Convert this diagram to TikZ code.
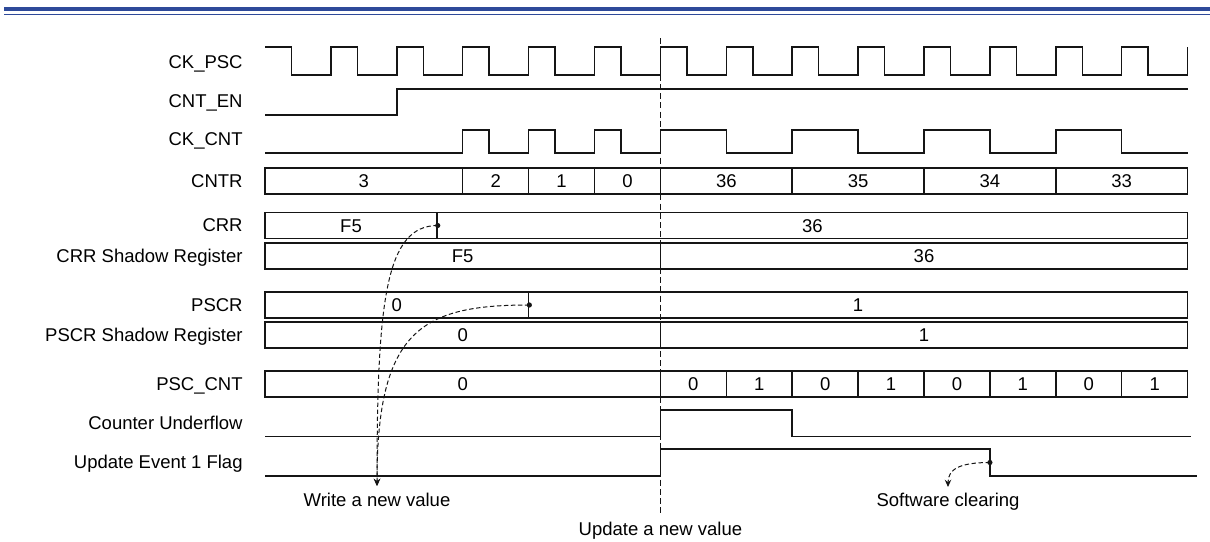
\documentclass[tikz,border=0pt]{standalone}
\usepackage{fontspec}
\setmainfont{Liberation Sans}
\usepackage{tikz}
\usetikzlibrary{positioning,arrows.meta}
\definecolor{cBar}{HTML}{2E4A9A}
\definecolor{cInk}{HTML}{151515}
\tikzset{
  >={Stealth[length=3.6pt,width=3.2pt]},
  sig/.style={line width=0.75pt,cInk},
  busbox/.style={draw=cInk,line width=0.75pt,inner sep=0pt,minimum height=13pt,
                 text height=6.6pt,text depth=0pt},
  lbl/.style={anchor=east,inner sep=0pt,text height=6.6pt,text depth=0pt},
  note/.style={inner sep=0pt,text height=6.6pt,text depth=0pt},
  guide/.style={cInk,line width=0.5pt,dash pattern=on 3pt off 1.6pt},
  hint/.style={->,cInk,line width=0.5pt,dash pattern=on 2.2pt off 1.3pt},
  dotpt/.style={circle,fill=cInk,inner sep=0pt,minimum size=2.6pt},
}
% clock tick -> x position (px)
\newcommand{\tpos}[1]{(265+(#1)*65.9)}
% one register row: name, y, list of tick_from/tick_to/value
\newcommand{\busrow}[3]{%
  \foreach \a/\b/\v [count=\i] in {#3}
    \node[busbox,minimum width={(\b-\a)*32.95pt}] (#1\i) at ({265+(\a+\b)*32.95},#2) {\v};}

\begin{document}
\begin{tikzpicture}[x=0.5pt,y=-0.5pt,font=\fontsize{9.25}{11}\selectfont]
  \useasboundingbox (0,0) rectangle (1210,541);
  \draw[cBar,line width=2pt] (4,9) -- (1210,9);
  \draw[cBar,line width=0.8pt] (4,14.5) -- (1210,14.5);

  \node[lbl] (lckpsc) at (243,62)    {CK\_PSC};
  \node[lbl] (lcnten) at (243,100.5) {CNT\_EN};
  \node[lbl] (lckcnt) at (243,139)   {CK\_CNT};
  \node[lbl] (lcntr)  at (243,181)   {CNTR};
  \node[lbl] (lcrr)   at (243,225)   {CRR};
  \node[lbl] (lcrrs)  at (243,255.5) {CRR Shadow Register};
  \node[lbl] (lpscr)  at (243,305)   {PSCR};
  \node[lbl] (lpscrs) at (243,335)   {PSCR Shadow Register};
  \node[lbl] (lpsc)   at (243,384)   {PSC\_CNT};
  \node[lbl] (lund)   at (243,423)   {Counter Underflow};
  \node[lbl] (luef)   at (243,462)   {Update Event 1 Flag};

  \draw[sig] (265,47) \foreach \k in {0,...,13}{
      -- ({\tpos{\k}+26.5},47) |- ({\tpos{\k+1}},75) -- ++(0,-28)};
  \draw[sig] (265,115) -| ({\tpos{2}},89) -- ({\tpos{14}},89);
  \draw[sig] (265,153) \foreach \k in {3,4,5}{
      -| ({\tpos{\k}},130) -| ({\tpos{\k}+26.5},153)}
    \foreach \k in {6,8,10,12}{
      -| ({\tpos{\k}},130) -| ({\tpos{\k+1}},153)} -- ({\tpos{14}},153);

  \busrow{cntr}{181}{0/3/3,3/4/2,4/5/1,5/6/0,6/8/36,8/10/35,10/12/34,12/14/33}
  \busrow{crr}{225.5}{0/2.61/F5,2.61/14/36}
  \busrow{crrs}{256}{0/6/F5,6/14/36}
  \busrow{pscr}{305}{0/4/0,4/14/1}
  \busrow{pscrs}{335}{0/6/0,6/14/1}
  \busrow{psc}{384}{0/6/0,6/7/0,7/8/1,8/9/0,9/10/1,10/11/0,11/12/1,12/13/0,13/14/1}

  \draw[sig] (265,436.5) -| ({\tpos{6}},410) -| ({\tpos{8}},436.5) -- ({\tpos{14}+3},436.5);
  \draw[sig] (265,476) -| ({\tpos{6}},449) -| ({\tpos{11}},476) -- (1197,476);

  \node[dotpt] (crrw) at (crr1.east) {};
  \node[dotpt] (pscrw) at (pscr1.east) {};
  \node[dotpt] (uefclr) at ({\tpos{11}},462.5) {};

  \coordinate (wtip) at (377,486);
  \coordinate (ctip) at (948,487);
  \coordinate (updtop) at ({\tpos{6}},38);
  \coordinate (updbot) at ({\tpos{6}},514);
  \node[note,below=3.6pt of wtip] (wnew) {Write a new value};
  \node[note,below=3pt of ctip] (swclr) {Software clearing};
  \node[note,below=3.8pt of updbot] (upnew) {Update a new value};

  \draw[guide] (updtop) -- (updbot);
  \draw[hint] (crrw.center) .. controls +(-52,0) and +(0,-186) .. (wtip);
  \draw[hint] (pscrw.center) .. controls +(-108,0) and +(0,-156) .. (wtip);
  \draw[hint] (uefclr.center) .. controls +(-30,0) and +(0,-18) .. (ctip);
\end{tikzpicture}
\end{document}
